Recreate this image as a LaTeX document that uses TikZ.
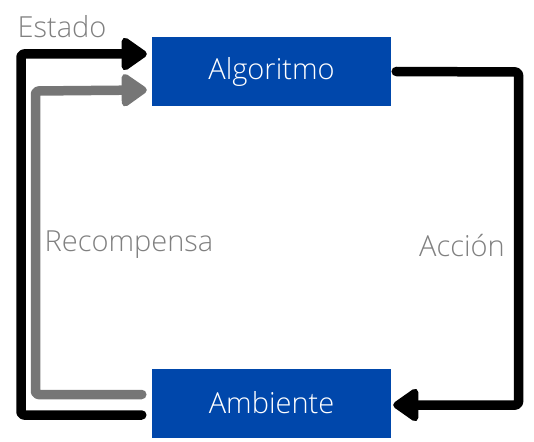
\documentclass[tikz,border=0pt]{standalone}
\usepackage{fontspec}
\setmainfont{Open Sans Light}
\usetikzlibrary{arrows.meta}
\definecolor{boxblue}{RGB}{0,71,171}
\definecolor{linegray}{RGB}{118,118,118}
\definecolor{textgray}{RGB}{128,128,128}
\tikzset{
  box/.style={fill=boxblue, draw=none, minimum width=239pt, minimum height=69pt, inner sep=0pt, text=white, font=\fontsize{29}{33}\selectfont},
  lbl/.style={text=textgray, font=\fontsize{29}{33}\selectfont, inner sep=0pt},
  conn/.style={line width=9.5pt, line cap=round, line join=round, rounded corners=3pt},
  tip/.style={-{Triangle[length=28pt,width=37pt,round]}}
}
\begin{document}
\begin{tikzpicture}[x=1pt,y=-1pt]
\useasboundingbox (0,0) rectangle (534,441);
\node[box] (alg) at (271.5,71.5) {Algoritmo};
\node[box] (amb) at (271.5,403) {Ambiente};
\node[lbl] (est) at (62,27) {Estado};
\node[lbl] (rec) at (129,245) {Recompensa};
\node[lbl] (acc) at (462,246) {Acción};
\coordinate (b1) at ([xshift=-10pt,yshift=-12pt]amb.west);
\coordinate (b2) at ([xshift=-5pt,yshift=17.5pt]alg.west);
\coordinate (g1) at ([xshift=-10pt,yshift=8.5pt]amb.west);
\coordinate (g2) at ([xshift=-5pt,yshift=-18.5pt]alg.west);
\coordinate (r1) at ([xshift=5pt]alg.east);
\coordinate (r2) at ([xshift=2pt,yshift=-2pt]amb.east);
\draw[conn, tip, black] (b1) -- (21,415) -- (21,54) -- (b2);
\draw[conn, tip, linegray] (g1) -- (35.5,394.5) -- (35.5,91) -- (g2);
\draw[conn, tip, black] (r1) -- (518.5,72) -- (518.5,405) -- (r2);
\end{tikzpicture}
\end{document}
